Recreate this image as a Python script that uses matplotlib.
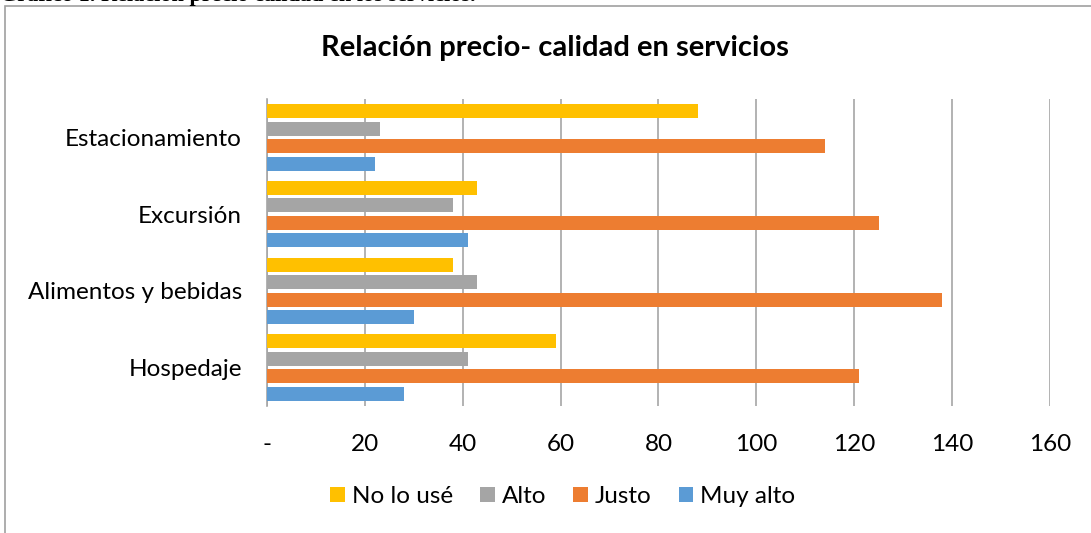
import matplotlib
matplotlib.use("Agg")
import matplotlib.pyplot as plt
import numpy as np
from matplotlib.patches import Rectangle

plt.rcParams['font.family'] = ['Lato', 'DejaVu Sans']

# data (bottom -> top, as drawn)
categorias = ["Hospedaje", "Alimentos y bebidas", "Excursión", "Estacionamiento"]
no_lo_use = [59, 38, 43, 88]
alto = [41, 43, 38, 23]
justo = [121, 138, 125, 114]
muy_alto = [28, 30, 41, 22]

x_ticks = [0, 20, 40, 60, 80, 100, 120, 140, 160]
x_labels = ["-", "20", "40", "60", "80", "100", "120", "140", "160"]

colors = {"No lo usé": "#FFC000", "Alto": "#A5A5A5", "Justo": "#ED7D31", "Muy alto": "#5B9BD5"}

fig = plt.figure(figsize=(10.91, 5.33), dpi=100)
ax = fig.add_axes([0.2447, 0.2383, 0.7177, 0.576])

y = np.arange(len(categorias))
slot = 0.228
h = 0.18
series = [("Muy alto", muy_alto), ("Justo", justo), ("Alto", alto), ("No lo usé", no_lo_use)]
bars = {}
for i, (name, vals) in enumerate(series):
    off = (i - 1.5) * slot
    bars[name] = ax.barh(y + off, vals, height=h, color=colors[name], zorder=3)

ax.set_xlim(0, 160)
ax.set_ylim(-0.5, 3.5)
ax.set_xticks(x_ticks)
ax.set_xticklabels(x_labels, fontsize=17.5)
ax.set_yticks(y)
ax.set_yticklabels(categorias, fontsize=17.5)
ax.tick_params(length=0, pad=20, axis='x')
ax.tick_params(length=0, pad=18, axis='y')
for s in ["top", "right", "bottom"]:
    ax.spines[s].set_visible(False)
ax.spines["left"].set_color("#A6A6A6")
ax.spines["left"].set_linewidth(1.2)
ax.grid(axis='x', color="#A6A6A6", linewidth=1.2, zorder=0)

fig.text(0.509, 0.91, "Relación precio- calidad en servicios", ha='center', va='center',
         fontsize=21, fontweight='bold')

order = ["No lo usé", "Alto", "Justo", "Muy alto"]
fig.legend([bars[n] for n in order], order, loc='center', bbox_to_anchor=(0.516, 0.068),
           ncol=4, frameon=False, fontsize=17.5, handlelength=0.6, handleheight=0.6,
           handletextpad=0.3, columnspacing=1.1)

# chart border
fig.patches.append(Rectangle((5 / 1091, -0.01), 1.02, (533 - 6) / 533 + 0.01,
                             transform=fig.transFigure, fill=False,
                             edgecolor="#A0A0A0", linewidth=1.2))

# caption of the page, cut off at the top (only its lower edge shows)
fig.text(0.0, 1.0 - 1.5 / 533, "Gráfico 1. Relación precio calidad en los servicios.",
         ha='left', va='baseline', fontsize=16, fontweight='bold',
         family=['Liberation Serif', 'DejaVu Serif'])

fig.savefig("out.png", dpi=100)
